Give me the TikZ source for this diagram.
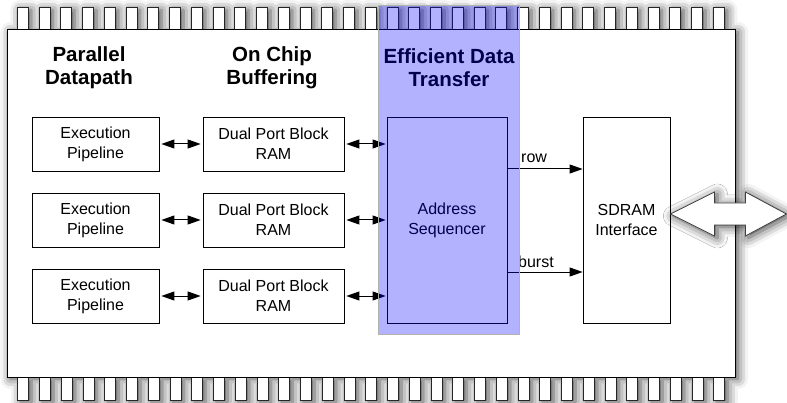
\documentclass[tikz,border=0pt]{standalone}
\usepackage{fontspec}
\setmainfont{Liberation Sans}
\usetikzlibrary{arrows.meta,shadows.blur,calc}

\begin{document}
\begin{tikzpicture}[x=1pt,y=1pt,
  box/.style={draw=black, line width=0.8pt, fill=white, inner sep=0pt, align=center,
    font=\fontsize{16}{20}\selectfont},
  head/.style={align=center, inner sep=0pt, font=\fontsize{20.5}{23}\selectfont\bfseries},
  lbl/.style={inner sep=0pt, font=\fontsize{16}{20}\selectfont},
  pin/.style={draw=black!85, line width=1pt, fill=white},
  link/.style={line width=1pt,
    {Stealth[length=13pt,width=9pt,inset=0pt,fill=black]}-{Stealth[length=13pt,width=9pt,inset=0pt,fill=black]},
    shorten <=2pt, shorten >=2pt},
  sig/.style={line width=1pt, -{Stealth[length=13pt,width=9pt,inset=0pt,fill=black]}},
  dropshadow/.style={blur shadow={shadow xshift=3pt, shadow yshift=-2pt,
    shadow blur radius=10pt, shadow opacity=75}},
  bus/.style={draw=black!75, line width=0.8pt, fill=white, line join=miter, dropshadow},
  band/.style={fill=blue, fill opacity=0.3, draw=black!30, line width=0.8pt},
]
\useasboundingbox (0,0) rectangle (787,402);

% soft shadow under the package outline and its pins
\path[dropshadow] (7.5,25) rectangle (735,372)
  foreach \i in {0,...,32} {
    (17.3+\i*21.75,372) rectangle ++(11,22)
    (17.8+\i*21.75,2) rectangle ++(11,23)
  };

% pins
\foreach \i in {0,...,32} {
  \draw[pin] (17.3+\i*21.75,372) rectangle ++(11,22);
  \draw[pin] (17.8+\i*21.75,2) rectangle ++(11,23);
}

% package body
\draw[line width=1pt, fill=white] (7.5,25) rectangle (735,372);

% column headings
\node[head] (hpar)  at (89,334)  {Parallel\\Datapath};
\node[head] (hbuf)  at (272,334) {On Chip\\Buffering};
\node[head] (hxfer) at (449,334) {Efficient Data\\Transfer};

% pipelines and their block RAMs
\foreach \r/\y in {1/258,2/182,3/106} {
  \node[box, minimum width=127pt, minimum height=54pt] (exe\r) at (95.5,\y) {Execution\\Pipeline};
  \node[box, minimum width=141pt, minimum height=54pt] (dpr\r) at (273.5,\y) {Dual Port Block\\RAM};
}

\node[box, minimum width=120pt, minimum height=206pt] (addr)  at (447,182)   {Address\\Sequencer};
\node[box, minimum width=87pt,  minimum height=206pt] (sdram) at (626.5,182) {SDRAM\\Interface};

\foreach \r in {1,2,3} {
  \draw[link] (exe\r) -- (dpr\r);
  \draw[link, shorten >=1pt] (dpr\r.east) -- (addr.west |- dpr\r.east);
}

% control signals to the SDRAM interface
\coordinate (rowlvl)   at (0,233);
\coordinate (burstlvl) at (0,130);
\draw[sig] (addr.east |- rowlvl) -- (sdram.west |- rowlvl);
\draw[sig] (addr.east |- burstlvl) -- (sdram.west |- burstlvl);
\node[lbl, anchor=base west] (rowtxt)   at (521,239) {row};
\node[lbl, anchor=base west] (bursttxt) at (518,135) {burst};

% external memory bus
\coordinate (busl) at ($(sdram.east)+(0,6)$);
\draw[bus] (busl) -- ++(44,22) -- ++(0,-11) -- ++(31,0) -- ++(0,11) -- ++(41,-22)
  -- ++(-41,-22) -- ++(0,11) -- ++(-31,0) -- ++(0,-11) -- cycle;

% highlighted data-transfer column
\draw[band] (378,68) rectangle (519,397);
\end{tikzpicture}
\end{document}
